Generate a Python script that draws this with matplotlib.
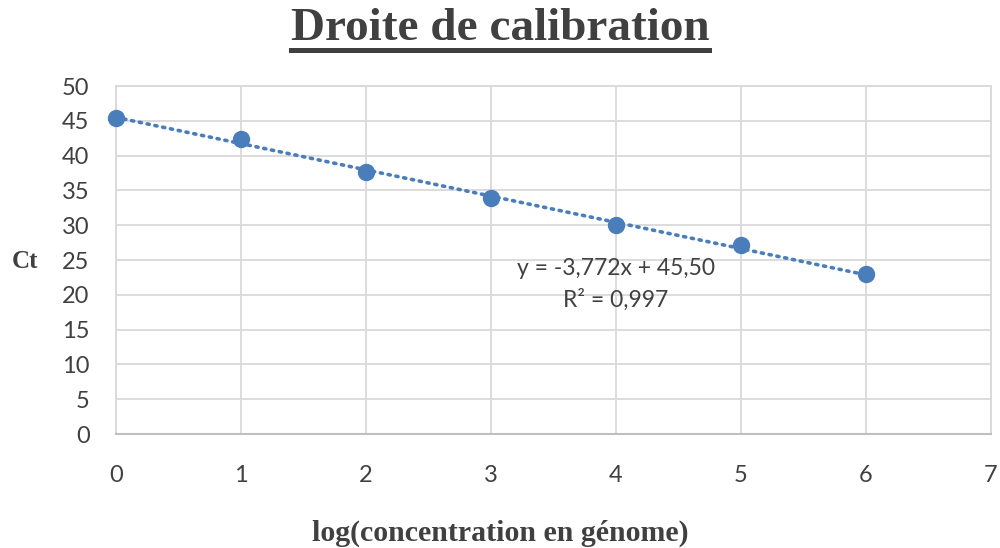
import matplotlib
import matplotlib.pyplot as plt
from matplotlib.lines import Line2D

matplotlib.use("Agg")

# Données de calibration : log(concentration) et Ct mesurés
log_conc = [0, 1, 2, 3, 4, 5, 6]
ct_values = [45.4, 42.4, 37.6, 33.9, 30.0, 27.1, 23.0]

# Droite de régression affichée
pente = -3.772
ordonnee = 45.50
r2 = 0.997

bleu = "#4a7ebb"
gris_grille = "#d9d9d9"
gris_texte = "#404040"

fig = plt.figure(figsize=(10, 5.48), dpi=100)
ax = fig.add_axes([0.116, 0.208, 0.875, 0.635])

x_fit = [min(log_conc), max(log_conc)]
y_fit = [pente * x + ordonnee for x in x_fit]
ax.plot(x_fit, y_fit, color=bleu, linestyle=(0, (0.6, 1.6)), linewidth=2.6,
        dash_capstyle="round", zorder=3)
ax.plot(log_conc, ct_values, "o", color=bleu, markersize=11.5, zorder=4,
        clip_on=False)

ax.set_xlim(0, 7)
ax.set_ylim(0, 50)
ax.set_xticks(range(0, 8))
ax.set_yticks(range(0, 51, 5))
ax.grid(True, color=gris_grille, linewidth=1.3)
ax.set_axisbelow(True)
ax.tick_params(length=0, labelsize=17, labelcolor=gris_texte)
ax.tick_params(axis="x", pad=22)
ax.tick_params(axis="y", pad=19)
for lab in ax.get_xticklabels() + ax.get_yticklabels():
    lab.set_family("Lato")

for side in ["top", "right", "left"]:
    ax.spines[side].set_color(gris_grille)
    ax.spines[side].set_linewidth(1.3)
ax.spines["bottom"].set_color("#bfbfbf")
ax.spines["bottom"].set_linewidth(1.5)

eq = f"y = {pente:.3f}x + {ordonnee:.2f}".replace(".", ",")
r2_txt = f"R² = {r2:.3f}".replace(".", ",")
ax.text(4.0, 23.85, eq, ha="center", va="center", fontsize=16.5,
        color=gris_texte, family="Lato")
ax.text(4.0, 19.25, r2_txt, ha="center", va="center", fontsize=16.5,
        color=gris_texte, family="Lato")

serif = "Liberation Serif"
titre = fig.text(0.5, 0.927, "Droite de calibration", ha="center",
                 va="baseline", fontsize=34, fontweight="bold", family=serif,
                 color=gris_texte)
fig.text(0.012, 0.522, "Ct", ha="left", va="center", fontsize=18,
         fontweight="bold", family=serif, color=gris_texte)
fig.text(0.5, 1 - 541 / 548, "log(concentration en génome)", ha="center",
         va="baseline", fontsize=21.5, fontweight="bold", family=serif,
         color=gris_texte)

# soulignement du titre
fig.canvas.draw()
bb = titre.get_window_extent().transformed(fig.transFigure.inverted())
y_soul = 1 - 49.5 / 548
fig.add_artist(Line2D([bb.x0, bb.x1], [y_soul, y_soul], color=gris_texte,
                      linewidth=3.6, transform=fig.transFigure))

fig.savefig("out.png", dpi=100)
